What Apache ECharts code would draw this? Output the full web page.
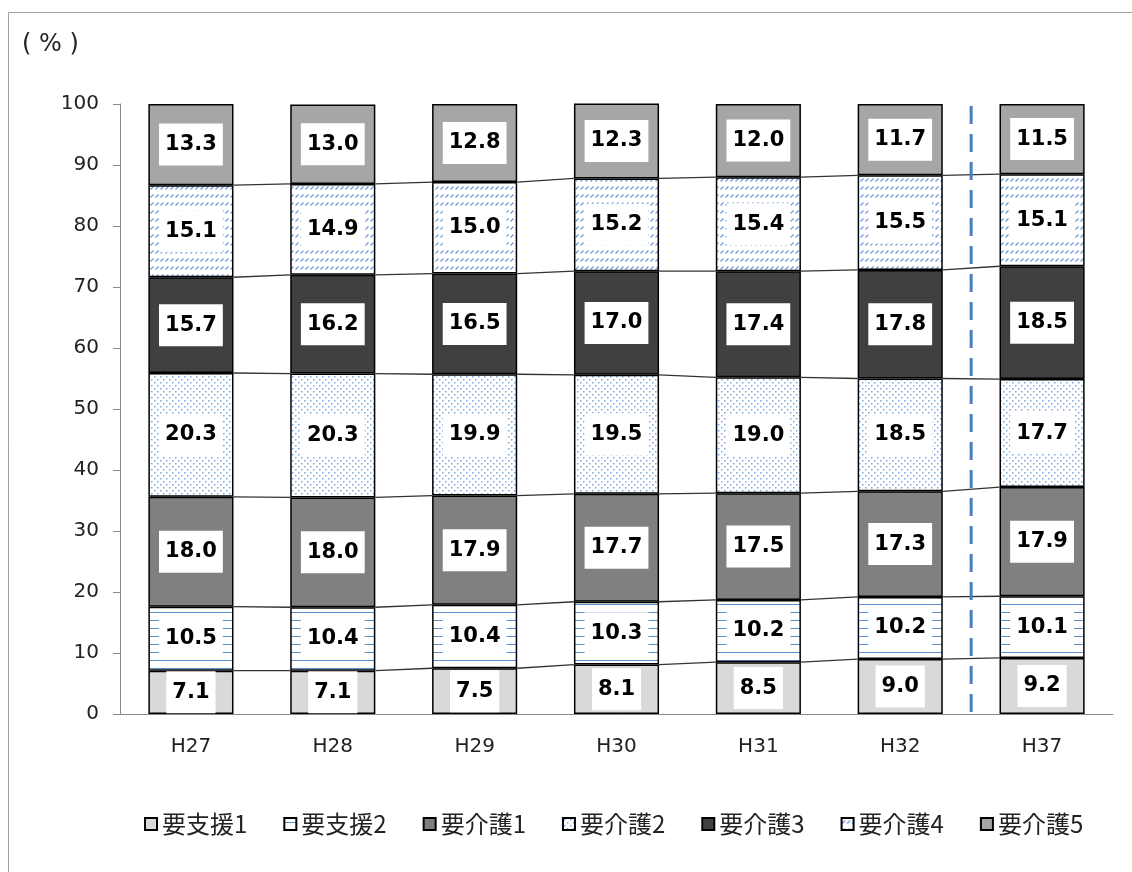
<!DOCTYPE html>
<html>
<head>
<meta charset="utf-8">
<script src="https://cdn.jsdelivr.net/npm/echarts@6/dist/echarts.min.js"></script>
<style>
  html, body { margin: 0; padding: 0; background: #fff; }
  #chart { width: 1132px; height: 872px; }
</style>
</head>
<body>
<div id="chart"></div>
<script>
// Fiscal years (H = Heisei)
const categories = ['H27', 'H28', 'H29', 'H30', 'H31', 'H32', 'H37'];

// Share of certified persons by care level (%)
const shien1 = [7.1, 7.1, 7.5, 8.1, 8.5, 9.0, 9.2];
const shien2 = [10.5, 10.4, 10.4, 10.3, 10.2, 10.2, 10.1];
const kaigo1 = [18.0, 18.0, 17.9, 17.7, 17.5, 17.3, 17.9];
const kaigo2 = [20.3, 20.3, 19.9, 19.5, 19.0, 18.5, 17.7];
const kaigo3 = [15.7, 16.2, 16.5, 17.0, 17.4, 17.8, 18.5];
const kaigo4 = [15.1, 14.9, 15.0, 15.2, 15.4, 15.5, 15.1];
const kaigo5 = [13.3, 13.0, 12.8, 12.3, 12.0, 11.7, 11.5];

const seriesNames = ['要支援1', '要支援2', '要介護1', '要介護2', '要介護3', '要介護4', '要介護5'];
const seriesData = [shien1, shien2, kaigo1, kaigo2, kaigo3, kaigo4, kaigo5];

// Index of the first projected year (dashed divider goes before it)
const projectionStart = 6;

const yTicks = { min: 0, max: 100, interval: 10 };

// ---- fill patterns ----
function makeTile(w, h, draw) {
  const c = document.createElement('canvas');
  c.width = w; c.height = h;
  const ctx = c.getContext('2d');
  ctx.fillStyle = '#fff';
  ctx.fillRect(0, 0, w, h);
  draw(ctx);
  return { image: c, repeat: 'repeat' };
}
const BLUE = '#5b8fd0';
const hLines = makeTile(8, 8, ctx => {
  ctx.fillStyle = BLUE;
  ctx.fillRect(0, 4, 8, 1);
});
const dots = makeTile(6, 6, ctx => {
  ctx.fillStyle = '#7ea6da';
  ctx.fillRect(1, 1, 1.5, 1.5);
  ctx.fillRect(4, 4, 1.5, 1.5);
});
const diag = makeTile(5, 8, ctx => {
  ctx.strokeStyle = '#6f9bd6';
  ctx.lineWidth = 1.2;
  ctx.beginPath();
  ctx.moveTo(0.5, 5.5);
  ctx.lineTo(3.5, 2.5);
  ctx.stroke();
});

const fills = ['#d9d9d9', hLines, '#808080', dots, '#404040', diag, '#a6a6a6'];

const labelStyle = {
  show: true,
  position: 'inside',
  formatter: p => p.value.toFixed(1),
  backgroundColor: '#fff',
  padding: [10, 6],
  color: '#000',
  fontFamily: 'DejaVu Sans',
  fontWeight: 'bold',
  fontSize: 21,
  lineHeight: 22
};

const barSeries = seriesNames.map((name, k) => ({
  name,
  type: 'bar',
  stack: 'total',
  barCategoryGap: '40%',
  data: seriesData[k],
  itemStyle: { color: fills[k], borderColor: '#000', borderWidth: 1.5 },
  label: labelStyle,
  emphasis: { disabled: true },
  z: 3
}));

// cumulative tops of each series per year
const cumulative = categories.map((_, i) => {
  let s = 0;
  return seriesData.map(arr => (s += arr[i]));
});

// series-line data: [gapIndex, tops of bar i (series 1..6), tops of bar i+1 (series 1..6)]
const linkData = [];
for (let i = 0; i < categories.length - 1; i++) {
  linkData.push([i].concat(cumulative[i].slice(0, 6), cumulative[i + 1].slice(0, 6)));
}

const seriesLines = {
  type: 'custom',
  silent: true,
  data: linkData,
  z: 2,
  renderItem(params, api) {
    const i = api.value(0);
    const bw = api.size([1, 0])[0] * 0.6;
    const xa = api.coord([i, 0])[0] + bw / 2;
    const xb = api.coord([i + 1, 0])[0] - bw / 2;
    const children = [];
    for (let k = 0; k < 6; k++) {
      const ya = api.coord([i, api.value(1 + k)])[1];
      const yb = api.coord([i + 1, api.value(7 + k)])[1];
      children.push({
        type: 'line',
        shape: { x1: xa, y1: ya, x2: xb, y2: yb },
        style: { stroke: '#333', lineWidth: 1.3 }
      });
    }
    return { type: 'group', children };
  }
};

const divider = {
  type: 'custom',
  silent: true,
  data: [[projectionStart - 1, projectionStart]],
  z: 5,
  renderItem(params, api) {
    const x = (api.coord([api.value(0), 0])[0] + api.coord([api.value(1), 0])[0]) / 2;
    const yTop = api.coord([0, yTicks.max])[1];
    const yBot = api.coord([0, yTicks.min])[1];
    return {
      type: 'line',
      shape: { x1: x, y1: yTop + 2, x2: x, y2: yBot },
      style: { stroke: '#4a7ebb', lineWidth: 3, lineDash: [18, 10] }
    };
  }
};

const chart = echarts.init(document.getElementById('chart'), null, { renderer: 'canvas' });
chart.setOption({
  animation: false,
  backgroundColor: '#fff',
  graphic: [
    {
      type: 'rect',
      shape: { x: 8.5, y: 12.5, width: 1200, height: 1000 },
      style: { fill: 'none', stroke: '#a0a0a0', lineWidth: 1 },
      silent: true
    },
    {
      type: 'text',
      left: 22,
      top: 33,
      style: { text: '( % )', font: '24px "DejaVu Sans"', fill: '#222' }
    }
  ],
  grid: { left: 120, right: 19, top: 104, bottom: 158 },
  legend: {
    data: seriesNames,
    icon: 'rect',
    left: 139,
    top: 807,
    itemWidth: 12,
    itemHeight: 12,
    itemGap: 36,
    textStyle: { fontFamily: 'Noto Sans CJK JP', fontSize: 24, color: '#222' },
    selectedMode: false
  },
  xAxis: {
    type: 'category',
    data: categories,
    axisTick: { show: false },
    axisLine: { lineStyle: { color: '#888', width: 1 } },
    axisLabel: { fontFamily: 'DejaVu Sans', fontSize: 20, color: '#222', margin: 23 }
  },
  yAxis: {
    type: 'value',
    min: yTicks.min,
    max: yTicks.max,
    interval: yTicks.interval,
    splitLine: { show: false },
    axisLine: { show: true, lineStyle: { color: '#888', width: 1 } },
    axisTick: { show: true, length: 7, lineStyle: { color: '#888' } },
    axisLabel: { fontFamily: 'DejaVu Sans', fontSize: 20, color: '#222', margin: 21 }
  },
  series: barSeries.concat([seriesLines, divider])
});
</script>
</body>
</html>
